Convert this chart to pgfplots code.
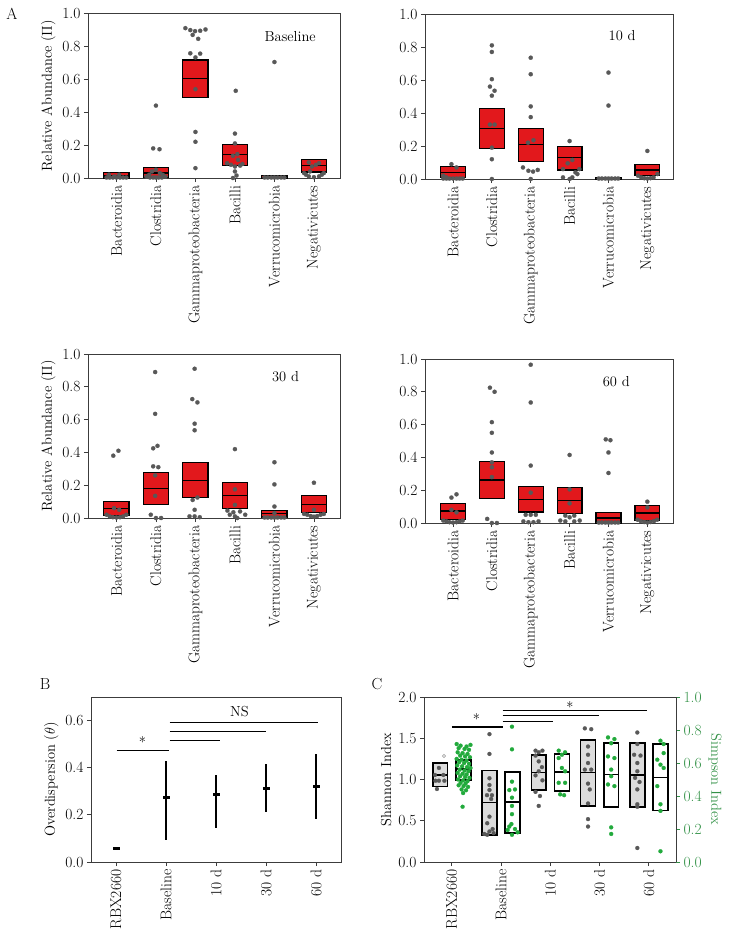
\documentclass[border=0pt]{standalone}
\usepackage{pgfplots}
\pgfplotsset{compat=1.18}
\definecolor{boxred}{RGB}{226,24,28}
\definecolor{dotgray}{RGB}{88,88,88}
\definecolor{sgreen}{RGB}{34,170,60}
\definecolor{agreen}{RGB}{50,145,70}
\definecolor{boxgray}{RGB}{220,220,220}
\definecolor{axgray}{RGB}{60,60,60}
\newcommand{\fs}{\fontsize{14.5}{16}\selectfont}
\newcommand{\ft}{\fontsize{15.5}{17}\selectfont}
\pgfplotsset{
  base/.style={
    scale only axis, clip=false,
    axis line style={axgray, line width=0.9pt},
    tick align=outside, xtick pos=left, ytick pos=left,
    major tick length=4pt,
    every tick/.style={axgray, line width=0.8pt},
    tick label style={font=\ft},
    label style={font=\fs},
    /pgf/number format/assume math mode=true,
    yticklabel style={/pgf/number format/.cd, fixed, fixed zerofill, precision=1},
  },
  panelA/.style={base, width=250pt, height=164.5pt,
    xmin=-0.72, xmax=5.66, ymin=0, ymax=1,
    xtick={0,1,2,3,4,5},
    xticklabels={Bacteroidia,Clostridia,Gammaproteobacteria,Bacilli,Verrucomicrobia,Negativicutes},
    xticklabel style={rotate=90, anchor=east},
    ytick={0,0.2,0.4,0.6,0.8,1.0}},
  gdots/.style={only marks, mark=*, mark size=2.1pt, mark options={draw=dotgray, fill=dotgray, line width=0.2pt}},
  grdots/.style={only marks, mark=*, mark size=2.1pt, mark options={draw=sgreen, fill=sgreen, line width=0.2pt}},
}
% box: #1 position, #2 q1, #3 median, #4 q3, #5 half width, #6 fill, #7 line width
\newcommand{\pbox}[7]{%
\addplot[draw=black, line width=#7, fill=#6, line cap=rect, line join=miter] table[row sep=\\, x expr=\thisrow{d}+#1] {d y\\ -#5 #2\\ #5 #2\\ #5 #4\\ -#5 #4\\ -#5 #2\\};
\addplot[black, line width=#7, line cap=butt] table[row sep=\\, x expr=\thisrow{d}+#1] {d y\\ -#5 #3\\ #5 #3\\};}
\newcommand{\abox}[4]{\pbox{#1}{#2}{#3}{#4}{0.32}{boxred}{1.2pt}}
\begin{document}
\begin{tikzpicture}
\useasboundingbox (0,0) rectangle (733pt,-937pt);
\node[font=\fontsize{16}{18}\selectfont] at (12pt,-14pt) {A};
\node[font=\fontsize{16}{18}\selectfont] at (45pt,-684pt) {B};
\node[font=\fontsize{16}{18}\selectfont] at (377pt,-684pt) {C};
% ---------------- A1 Baseline
\begin{axis}[panelA, at={(88pt,-178pt)}, anchor=south west, width=252pt, height=164.5pt, ylabel={Relative Abundance ($\Pi$)}]
\abox{0}{0}{0.012}{0.035}
\abox{1}{0.005}{0.03}{0.065}
\abox{2}{0.49}{0.606}{0.717}
\abox{3}{0.075}{0.141}{0.206}
\abox{4}{0}{0.004}{0.015}
\abox{5}{0.036}{0.077}{0.111}
\addplot[gdots] table {
x y
-0.25 0.003
-0.17 0.003
-0.09 0.003
0.0 0.003
0.09 0.003
0.17 0.003
0.25 0.003
-0.19 0.02
0.07 0.02
-0.05 0.01
1.0 0.44
0.93 0.18
1.09 0.175
1.0 0.05
0.9 0.04
1.1 0.03
0.83 0.02
1.17 0.02
0.76 0.008
1.24 0.008
0.85 0.003
0.93 0.003
1.0 0.003
1.07 0.003
1.15 0.003
1.745 0.911
1.87 0.899
1.99 0.893
2.12 0.895
2.255 0.903
1.93 0.870
2.07 0.846
1.87 0.758
2.12 0.756
2.0 0.733
2.0 0.54
2.0 0.28
2.0 0.22
2.0 0.06
3.02 0.53
3.0 0.27
3.0 0.21
3.06 0.145
2.95 0.135
3.08 0.11
2.8 0.09
3.19 0.085
2.9 0.08
3.13 0.075
3.0 0.07
3.0 0.04
3.04 0.015
2.95 0.0
4.0 0.705
3.75 0.003
3.83 0.003
3.92 0.003
4.0 0.003
4.08 0.003
4.17 0.003
4.25 0.003
4.87 0.095
5.13 0.09
5.05 0.08
4.95 0.07
4.9 0.04
4.75 0.03
5.25 0.03
4.8 0.02
5.2 0.02
4.87 0.01
5.13 0.01
5.0 0.005
};
\node[font=\fs] at (axis cs:4.4,0.86) {Baseline};
\end{axis}
% ---------------- A2 10 d
\begin{axis}[panelA, at={(425pt,-179pt)}, anchor=south west, width=248pt, height=165pt]
\abox{0}{0.01}{0.04}{0.075}
\abox{1}{0.183}{0.306}{0.426}
\abox{2}{0.108}{0.207}{0.306}
\abox{3}{0.055}{0.128}{0.197}
\abox{4}{0}{0.004}{0.01}
\abox{5}{0.02}{0.055}{0.09}
\addplot[gdots] table {
x y
-0.04 0.09
0.09 0.07
-0.25 0.02
-0.17 0.01
-0.25 0.003
-0.17 0.003
-0.09 0.003
0.0 0.003
0.09 0.003
0.17 0.003
0.25 0.003
1.0 0.81
1.0 0.77
1.0 0.605
0.95 0.56
1.07 0.535
1.0 0.505
0.95 0.33
1.07 0.33
1.0 0.19
1.0 0.12
1.0 0.0
2.0 0.735
2.0 0.635
2.0 0.44
2.0 0.375
2.07 0.235
1.93 0.22
1.8 0.07
1.94 0.05
2.06 0.045
2.18 0.055
2.0 0.0
3.0 0.23
3.07 0.115
2.95 0.095
2.83 0.06
3.25 0.06
3.15 0.04
3.2 0.03
2.83 0.01
3.07 0.01
3.0 0.0
4.0 0.645
4.0 0.445
3.75 0.003
3.83 0.003
3.92 0.003
4.0 0.003
4.08 0.003
4.17 0.003
4.25 0.003
5.0 0.17
5.26 0.03
4.76 0.02
4.84 0.01
4.92 0.005
5.0 0.003
5.08 0.005
5.16 0.01
};
\node[font=\fs] at (axis cs:4.35,0.87) {10 d};
\end{axis}
% ---------------- A3 30 d
\begin{axis}[panelA, at={(88pt,-518pt)}, anchor=south west, width=252pt, height=164pt, ylabel={Relative Abundance ($\Pi$)}]
\abox{0}{0.016}{0.06}{0.10}
\abox{1}{0.081}{0.18}{0.277}
\abox{2}{0.123}{0.23}{0.337}
\abox{3}{0.06}{0.139}{0.216}
\abox{4}{0.006}{0.026}{0.048}
\abox{5}{0.036}{0.083}{0.135}
\addplot[gdots] table {
x y
0.05 0.41
-0.08 0.38
-0.06 0.06
0.07 0.05
-0.25 0.02
-0.17 0.01
-0.09 0.005
0.0 0.003
0.09 0.005
0.17 0.01
0.25 0.02
0.98 0.89
0.98 0.635
1.04 0.44
0.93 0.425
0.93 0.315
1.06 0.31
0.98 0.26
0.98 0.135
0.87 0.02
1.0 0.0
1.13 0.0
1.98 0.91
1.92 0.725
2.05 0.705
1.98 0.575
1.98 0.535
2.05 0.125
1.93 0.11
1.98 0.05
1.85 0.01
1.98 0.01
2.11 0.005
3.0 0.42
3.0 0.175
3.0 0.08
2.81 0.045
3.13 0.04
2.96 0.035
2.87 0.02
3.26 0.02
3.0 0.01
3.06 0.0
4.0 0.34
4.0 0.205
4.0 0.07
4.0 0.03
3.75 0.003
3.83 0.003
3.92 0.003
4.0 0.003
4.08 0.003
4.17 0.003
4.25 0.003
5.0 0.215
5.0 0.05
4.75 0.025
4.83 0.02
4.92 0.012
5.0 0.008
5.08 0.012
5.17 0.02
5.25 0.025
};
\node[font=\fs] at (axis cs:4.28,0.86) {30 d};
\end{axis}
% ---------------- A4 60 d
\begin{axis}[panelA, at={(425pt,-523pt)}, anchor=south west, width=248pt, height=164pt]
\abox{0}{0.02}{0.073}{0.118}
\abox{1}{0.148}{0.262}{0.375}
\abox{2}{0.067}{0.144}{0.225}
\abox{3}{0.059}{0.138}{0.217}
\abox{4}{0}{0.03}{0.065}
\abox{5}{0.016}{0.061}{0.107}
\addplot[gdots] table {
x y
0.09 0.175
-0.04 0.155
-0.04 0.08
0.09 0.065
-0.25 0.015
-0.17 0.01
-0.09 0.005
0.0 0.003
0.09 0.005
0.17 0.01
0.25 0.015
0.95 0.825
1.07 0.80
1.0 0.615
1.0 0.55
1.0 0.43
1.0 0.37
1.0 0.34
1.0 0.28
0.88 0.025
1.0 0.0
1.13 0.0
2.0 0.965
2.0 0.735
2.0 0.35
2.0 0.185
1.87 0.05
2.0 0.05
2.13 0.05
1.81 0.01
1.94 0.005
2.07 0.005
2.2 0.01
3.0 0.415
3.0 0.205
3.0 0.12
2.89 0.045
3.12 0.045
3.0 0.035
2.76 0.015
2.89 0.01
3.12 0.01
3.26 0.015
3.93 0.51
4.05 0.505
4.0 0.43
4.0 0.305
3.75 0.003
3.83 0.003
3.92 0.003
4.0 0.003
4.08 0.003
4.17 0.003
4.25 0.003
5.0 0.13
5.0 0.095
4.75 0.02
4.83 0.012
4.92 0.006
5.0 0.003
5.08 0.006
5.17 0.012
5.25 0.02
};
\node[font=\fs] at (axis cs:4.2,0.86) {60 d};
\end{axis}
% ---------------- B
\begin{axis}[base, at={(91pt,-862pt)}, anchor=south west, width=250pt, height=165pt,
  xmin=-0.5, xmax=4.5, ymin=0, ymax=0.7, xtick={0,1,2,3,4},
  xticklabels={RBX2660,Baseline,10 d,30 d,60 d}, xticklabel style={rotate=90, anchor=east},
  ytick={0,0.2,0.4,0.6}, ylabel={Overdispersion ($\theta$)}]
\addplot[black, line width=1.5pt, only marks, mark=-, mark size=3.5pt, mark options={line width=3pt},
  error bars/.cd, y dir=both, y explicit, error mark=none, error bar style={line width=1.6pt, black}]
  table[x=x, y=y, y error plus=ep, y error minus=em] {
x y ep em
0 0.057 0.006 0.006
1 0.273 0.154 0.181
2 0.287 0.083 0.142
3 0.314 0.103 0.101
4 0.321 0.138 0.138
};
\addplot[black, line width=1.3pt] coordinates {(0.01,0.4735) (1.05,0.4735)};
\addplot[black, line width=1.3pt] coordinates {(1.07,0.516) (2.08,0.516)};
\addplot[black, line width=1.3pt] coordinates {(1.07,0.555) (3.0,0.555)};
\addplot[black, line width=1.3pt] coordinates {(1.07,0.593) (4.03,0.593)};
\node[font=\fs] at (axis cs:0.53,0.508) {*};
\node[font=\fs] at (axis cs:2.47,0.64) {NS};
\end{axis}
% ---------------- C (Shannon)
\begin{axis}[base, at={(424pt,-862pt)}, anchor=south west, width=252pt, height=165pt,
  xmin=-0.563, xmax=4.55, ymin=0, ymax=2, xtick={0,1,2,3,4},
  xticklabels={RBX2660,Baseline,10 d,30 d,60 d}, xticklabel style={rotate=90, anchor=east},
  ytick={0,0.5,1,1.5,2}, ylabel={Shannon Index}]
\pbox{-0.235}{0.913}{1.054}{1.203}{0.15}{boxgray}{1.6pt}
\pbox{0.765}{0.327}{0.723}{1.107}{0.15}{boxgray}{1.6pt}
\pbox{1.765}{0.873}{1.087}{1.296}{0.15}{boxgray}{1.6pt}
\pbox{2.765}{0.68}{1.083}{1.477}{0.15}{boxgray}{1.6pt}
\pbox{3.765}{0.664}{1.054}{1.44}{0.15}{boxgray}{1.6pt}
\addplot[only marks, mark=o, mark size=1.6pt, mark options={draw=gray!70, line width=0.6pt}] coordinates {(-0.157,1.285)};
\addplot[gdots, mark size=2pt] table {
x y
-0.26 1.14
-0.34 1.055
-0.17 1.055
-0.26 0.985
-0.33 0.985
-0.15 0.985
-0.30 0.885
0.765 1.55
0.765 1.31
0.765 1.015
0.765 0.933
0.765 0.873
0.715 0.81
0.816 0.81
0.80 0.764
0.765 0.55
0.72 0.47
0.83 0.40
0.765 0.37
0.85 0.35
0.66 0.34
0.72 0.33
1.70 1.35
1.84 1.35
1.765 1.33
1.70 1.29
1.765 1.22
1.83 1.15
1.765 1.10
1.70 1.05
1.84 0.99
1.70 0.85
1.79 0.80
1.765 0.68
2.70 1.62
2.83 1.61
2.765 1.40
2.765 1.30
2.765 1.20
2.70 1.12
2.83 1.12
2.765 0.95
2.80 0.88
2.765 0.71
2.765 0.52
2.765 0.43
3.765 1.57
3.765 1.43
3.70 1.30
3.83 1.29
3.765 1.20
3.765 1.10
3.72 1.02
3.81 0.97
3.765 0.88
3.765 0.70
3.765 0.67
3.765 0.17
};
\addplot[black, line width=1.3pt] coordinates {(0.0,1.638) (1.03,1.638)};
\addplot[black, line width=1.3pt] coordinates {(1.03,1.70) (2.05,1.70)};
\addplot[black, line width=1.3pt] coordinates {(1.03,1.775) (2.99,1.775)};
\addplot[black, line width=1.3pt] coordinates {(1.03,1.84) (3.97,1.84)};
\node[font=\fs] at (axis cs:0.5,1.73) {*};
\node[font=\fs] at (axis cs:2.4,1.88) {*};
\end{axis}
% ---------------- C (Simpson)
\begin{axis}[at={(424pt,-862pt)}, anchor=south west, scale only axis, width=252pt, height=165pt, clip=false,
  xmin=-0.563, xmax=4.55, ymin=0, ymax=1,
  axis x line=none, axis y line*=right, axis line style={axgray, line width=0.9pt},
  tick align=outside, ytick={0,0.2,0.4,0.6,0.8,1.0},
  every tick/.style={agreen, line width=0.8pt}, major tick length=4pt,
  /pgf/number format/assume math mode=true,
  yticklabel style={font=\ft, text=agreen, /pgf/number format/.cd, fixed, fixed zerofill, precision=1},
  ylabel={Simpson Index}, ylabel style={font=\fs, text=agreen, rotate=180}]
\pbox{0.235}{0.497}{0.565}{0.618}{0.15}{white}{1.6pt}
\pbox{1.235}{0.177}{0.362}{0.547}{0.15}{white}{1.6pt}
\pbox{2.235}{0.43}{0.545}{0.654}{0.15}{white}{1.6pt}
\pbox{3.235}{0.332}{0.53}{0.72}{0.15}{white}{1.6pt}
\pbox{4.235}{0.312}{0.513}{0.714}{0.15}{white}{1.6pt}
\addplot[grdots, mark size=2pt] table {
x y
0.10 0.715
0.18 0.705
0.30 0.70
0.38 0.71
0.14 0.69
0.26 0.685
0.35 0.68
0.12 0.665
0.22 0.66
0.32 0.655
0.17 0.645
0.27 0.64
0.37 0.635
0.10 0.625
0.20 0.62
0.30 0.615
0.15 0.605
0.25 0.60
0.35 0.595
0.11 0.585
0.21 0.58
0.31 0.575
0.38 0.57
0.16 0.56
0.26 0.555
0.34 0.55
0.12 0.54
0.22 0.535
0.30 0.53
0.17 0.52
0.27 0.515
0.36 0.51
0.13 0.50
0.23 0.495
0.32 0.49
0.18 0.48
0.28 0.475
0.14 0.465
0.24 0.46
0.33 0.455
0.20 0.44
0.29 0.435
0.23 0.418
0.22 0.335
1.222 0.82
1.222 0.683
1.222 0.487
1.168 0.436
1.283 0.44
1.222 0.39
1.222 0.34
1.222 0.29
1.21 0.23
1.168 0.215
1.135 0.194
1.283 0.2
1.337 0.18
1.222 0.165
2.17 0.675
2.30 0.665
2.235 0.65
2.17 0.63
2.235 0.57
2.30 0.55
2.17 0.48
2.30 0.48
2.20 0.41
2.28 0.405
3.17 0.755
3.30 0.745
3.235 0.72
3.17 0.64
3.30 0.63
3.235 0.56
3.235 0.52
3.17 0.47
3.30 0.46
3.235 0.21
3.235 0.17
4.235 0.735
4.30 0.715
4.30 0.66
4.17 0.62
4.235 0.59
4.30 0.57
4.17 0.46
4.235 0.35
4.235 0.31
4.235 0.065
};
\end{axis}
\end{tikzpicture}
\end{document}
